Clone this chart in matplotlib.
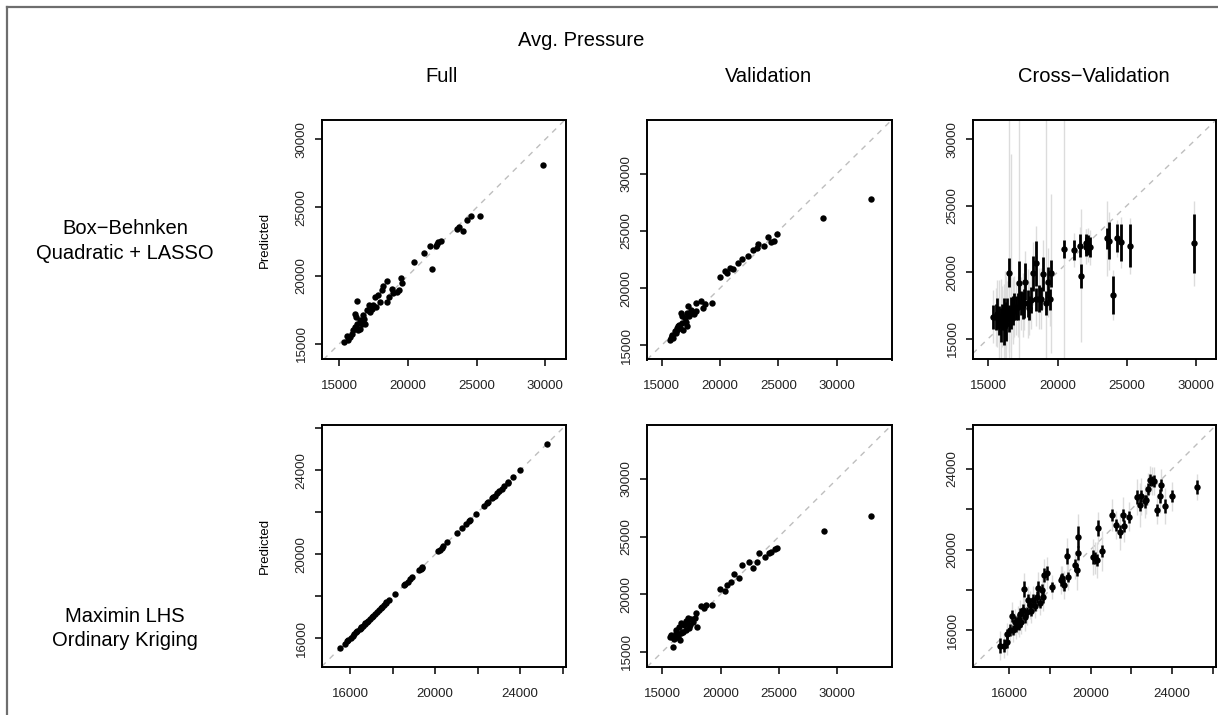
import matplotlib
matplotlib.use('Agg')
import matplotlib.pyplot as plt
from matplotlib.lines import Line2D

plt.rcParams['font.family'] = ['Liberation Sans', 'DejaVu Sans']

# ---------------- data ----------------
# Box-Behnken design: actual values (shared by Full and Cross-Validation)
bb_actual = [15340, 15530, 15660, 15780, 15900, 16020, 16140, 16140, 16210, 16260,
             16310, 16380, 16500, 16500, 16630, 16750, 16800, 16870, 16990, 17160,
             17230, 17350, 17480, 17600, 17670, 17840, 17960, 18080, 18200, 18450,
             18450, 18640, 18810, 18930, 19170, 19340, 19470, 19540, 20460, 21190,
             21600, 21720, 22040, 22090, 22210, 22380, 23540, 23740, 24030, 24270,
             24590, 25250, 29850]
bb_full_pred = [15120, 15540, 15250, 15490, 15690, 15980, 16230, 17210, 16960, 16470,
                18110, 15980, 16720, 16100, 16470, 17080, 16840, 16470, 17450, 17870,
                17330, 17570, 17820, 18430, 17700, 18550, 18060, 18920, 19220, 19580,
                18060, 18430, 19040, 18730, 18800, 18920, 19850, 19490, 21000, 21670,
                22160, 20470, 22180, 22350, 22430, 22520, 23450, 23530, 23280, 24070,
                24360, 24360, 28100]
bb_cv_pred = [16630, 16630, 16880, 16380, 16000, 16630, 15880, 17140, 16400, 16760,
              16130, 17140, 19950, 16510, 16900, 17190, 17100, 17390, 17300, 17390,
              19150, 17640, 17500, 17640, 19270, 17640, 17300, 17890, 19900, 17940,
              20650, 18010, 18010, 19850, 17700, 19220, 17960, 19900, 21730, 21660,
              21990, 19720, 21910, 22160, 22050, 21860, 22540, 22360, 18270, 22540,
              22240, 21990, 22160]
bb_cv_se = [900, 1000, 1200, 1100, 1300, 1000, 1400, 900, 1200, 1000,
            1300, 900, 1100, 1000, 1200, 900, 1100, 1000, 900, 1000,
            1700, 900, 1000, 1100, 1400, 1000, 900, 1000, 1300, 900,
            1700, 1000, 900, 1300, 900, 1200, 800, 1000, 650, 750,
            850, 900, 700, 700, 750, 750, 800, 1400, 1450, 1050,
            1400, 1600, 2200]
bb_cv_pi = [2000, 2200, 2500, 3000, 3500, 2300, 2800, 2000, 3700, 2500,
            3600, 2200, 20000, 2500, 12000, 2200, 2500, 2300, 2000, 2300,
            20000, 2000, 2400, 2000, 2300, 2600, 2000, 2200, 2400, 2000,
            2800, 2300, 2300, 2600, 20000, 2600, 2000, 6000, 12000, 1300,
            1400, 5000, 1300, 1100, 1300, 1300, 2800, 2200, 1900, 1400,
            1900, 2100, 3200]

# Validation set: actual values (shared by both designs)
val_actual = [15690, 15770, 15860, 15920, 16000, 16140, 16200, 16290, 16350, 16430,
              16490, 16570, 16630, 16710, 16770, 16860, 17000, 17060, 17140, 17200,
              17290, 17350, 17490, 17630, 17780, 17920, 17980, 18350, 18570, 18720,
              19290, 19980, 20410, 20570, 20860, 21140, 21570, 21840, 22400, 22800,
              23140, 23290, 23790, 24140, 24360, 24660, 24860, 28850, 32950]
val_bb_pred = [15490, 15600, 15780, 15930, 15640, 16220, 16070, 16350, 16500, 16650,
               16800, 16510, 17820, 16940, 17520, 16360, 17380, 17000, 16650, 17820,
               18400, 17600, 18100, 17800, 17700, 18740, 17960, 18890, 18250, 18600,
               18740, 20950, 21530, 21300, 21730, 21650, 22170, 22520, 22810, 23330,
               23530, 23820, 23680, 24430, 24050, 24110, 24720, 26090, 27830]
val_lhs_pred = [16240, 16450, 16300, 15380, 16100, 16590, 16880, 16240, 16240, 17170,
                16010, 16590, 17460, 16740, 16740, 17300, 17690, 16880, 17500, 17890,
                17100, 17320, 17810, 17610, 17890, 18330, 17170, 18970, 18800, 19050,
                19050, 20410, 20300, 20790, 21080, 21750, 21370, 22530, 22820, 22240,
                22820, 23600, 23190, 23600, 23690, 23890, 23980, 25480, 26810]

# Maximin LHS design: actual values (shared by Full and Cross-Validation)
lhs_actual = [15540, 15740, 15870, 15900, 16030, 16120, 16200, 16280, 16330, 16440,
              16500, 16530, 16600, 16690, 16720, 16790, 16850, 16940, 17020, 17080,
              17180, 17260, 17350, 17430, 17500, 17590, 17680, 17710, 17840, 18090,
              18520, 18600, 18700, 18830, 18910, 19240, 19320, 19370, 19400, 20140,
              20220, 20300, 20380, 20570, 21040, 21250, 21450, 21580, 21620, 21910,
              22300, 22440, 22490, 22680, 22730, 22800, 22900, 23010, 23130, 23260,
              23420, 23440, 23670, 24000, 25250]
lhs_full_pred = [15540, 15740, 15870, 15900, 16030, 16120, 16200, 16280, 16330, 16440,
                 16500, 16530, 16600, 16690, 16720, 16790, 16850, 16940, 17020, 17080,
                 17180, 17260, 17350, 17430, 17500, 17590, 17680, 17710, 17840, 18090,
                 18520, 18600, 18700, 18830, 18910, 19240, 19320, 19370, 19400, 20140,
                 20220, 20300, 20380, 20570, 21040, 21250, 21450, 21580, 21620, 21910,
                 22300, 22440, 22490, 22680, 22730, 22800, 22900, 23010, 23130, 23260,
                 23420, 23440, 23670, 24000, 25250]
lhs_cv_pred = [15250, 15250, 15420, 15830, 16000, 16700, 16000, 16420, 16150, 16500,
               16250, 16830, 16400, 17000, 18030, 16650, 16900, 17490, 17240, 16950,
               17490, 17200, 17660, 18080, 17350, 17990, 17660, 18740, 18860, 18160,
               18490, 18600, 18240, 19690, 18660, 19240, 18990, 19850, 20650, 19650,
               19570, 19490, 21060, 19920, 21730, 21230, 20900, 21730, 21180, 21640,
               22600, 22220, 22640, 22390, 22470, 23000, 23470, 23390, 23420, 21980,
               22640, 23190, 22170, 22640, 23100]
lhs_cv_se = [350, 300, 300, 250, 300, 300, 250, 300, 250, 300,
             250, 300, 250, 300, 400, 300, 250, 300, 300, 250,
             300, 250, 300, 350, 250, 300, 300, 350, 350, 250,
             300, 250, 300, 400, 250, 300, 300, 350, 500, 350,
             300, 300, 400, 300, 300, 300, 300, 300, 300, 300,
             350, 300, 300, 300, 250, 300, 300, 250, 300, 300,
             350, 300, 350, 300, 350]
lhs_cv_pi = [700, 600, 650, 550, 600, 700, 600, 650, 600, 700,
             600, 700, 600, 650, 800, 700, 650, 700, 700, 600,
             700, 600, 700, 800, 600, 700, 700, 800, 800, 600,
             700, 600, 700, 900, 650, 700, 1000, 800, 1100, 900,
             800, 900, 800, 1000, 800, 700, 900, 900, 800, 700,
             900, 1100, 900, 800, 700, 800, 700, 700, 700, 700,
             800, 800, 900, 700, 650]

ticks_a = [15000, 20000, 25000, 30000]
labels_a = ['15000', '20000', '25000', '30000']
ticks_b = [16000, 18000, 20000, 22000, 24000, 26000]
labels_b = ['16000', '', '20000', '', '24000', '']

row_titles = [['Box\u2212Behnken', 'Quadratic + LASSO'], ['Maximin LHS', 'Ordinary Kriging']]
col_titles = ['Full', 'Validation', 'Cross\u2212Validation']
main_title = 'Avg. Pressure'
ylab = 'Predicted'

# ---------------- figure ----------------
W, H = 1218, 715
fig = plt.figure(figsize=(W / 100, H / 100), dpi=100)

def px_axes(left, top, right, bottom):
    return fig.add_axes([left / W, 1 - bottom / H, (right - left) / W, (bottom - top) / H])

col_px = [(321.7, 566.0), (646.7, 891.7), (972.7, 1216.0)]
row_px = [(120.0, 359.5), (425.0, 666.7)]

def style(ax, xlim, ylim, ticks, labels):
    ax.set_xlim(xlim)
    ax.set_ylim(ylim)
    ax.set_xticks(ticks)
    ax.set_xticklabels(labels)
    ax.set_yticks(ticks)
    ax.set_yticklabels(labels, rotation=90, va='center')
    ax.tick_params(axis='both', direction='out', length=5, width=1.1,
                   labelsize=9.5, colors='black', labelcolor='#222222')
    ax.tick_params(axis='x', pad=10)
    ax.tick_params(axis='y', pad=5)
    for s in ax.spines.values():
        s.set_linewidth(1.4)
        s.set_color('black')
    ax.axline((20000, 20000), slope=1, color='#BEBEBE', lw=1.0,
              linestyle=(0, (4, 4)), zorder=1)

def dots(ax, x, y):
    ax.plot(x, y, 'o', color='black', markersize=4.6, markeredgewidth=0, zorder=4)

def cv_bars(ax, x, y, se, pi, bw):
    ax.vlines(x, [a - b for a, b in zip(y, pi)], [a + b for a, b in zip(y, pi)],
              color='#DCDCDC', lw=1.0, zorder=2)
    ax.vlines(x, [a - b for a, b in zip(y, se)], [a + b for a, b in zip(y, se)],
              color='black', lw=bw, zorder=3)

# Row 1
ax = px_axes(col_px[0][0], row_px[0][0], col_px[0][1], row_px[0][1])
style(ax, (13720, 31500), (13850, 31410), ticks_a, labels_a)
dots(ax, bb_actual, bb_full_pred)

ax = px_axes(col_px[1][0], row_px[0][0], col_px[1][1], row_px[0][1])
style(ax, (13720, 34700), (13760, 34700), ticks_a, labels_a)
dots(ax, val_actual, val_bb_pred)

ax = px_axes(col_px[2][0], row_px[0][0], col_px[2][1], row_px[0][1])
style(ax, (13870, 31450), (13420, 31450), ticks_a, labels_a)
cv_bars(ax, bb_actual, bb_cv_pred, bb_cv_se, bb_cv_pi, 2.0)
dots(ax, bb_actual, bb_cv_pred)

# Row 2
ax = px_axes(col_px[0][0], row_px[1][0], col_px[0][1], row_px[1][1])
style(ax, (14660, 26160), (14650, 26160), ticks_b, labels_b)
dots(ax, lhs_actual, lhs_full_pred)

ax = px_axes(col_px[1][0], row_px[1][0], col_px[1][1], row_px[1][1])
style(ax, (13650, 34690), (13700, 34690), ticks_a, labels_a)
dots(ax, val_actual, val_lhs_pred)

ax = px_axes(col_px[2][0], row_px[1][0], col_px[2][1], row_px[1][1])
style(ax, (14200, 26170), (14200, 26180), ticks_b, labels_b)
cv_bars(ax, lhs_actual, lhs_cv_pred, lhs_cv_se, lhs_cv_pi, 1.8)
dots(ax, lhs_actual, lhs_cv_pred)

# Texts
def ftext(x, y, s, **kw):
    fig.text(x / W, 1 - y / H, s, ha='center', va='center', color='black', **kw)

ftext(581, 40, main_title, fontsize=14.5)
for cx, t in zip([442, 768, 1094], col_titles):
    ftext(cx, 77, t, fontsize=14.5)
ftext(125, 229, row_titles[0][0], fontsize=14.5)
ftext(125, 253, row_titles[0][1], fontsize=14.5)
ftext(125, 617, row_titles[1][0], fontsize=14.5)
ftext(125, 641, row_titles[1][1], fontsize=14.5)
ftext(265, 240, ylab, fontsize=9.5, rotation=90)
ftext(265, 546, ylab, fontsize=9.5, rotation=90)

# outer frame (left and top edges)
fig.add_artist(Line2D([7 / W, 7 / W], [0, 1 - 7 / H], transform=fig.transFigure,
                      color='#6E6E6E', lw=1.6))
fig.add_artist(Line2D([7 / W, 1], [1 - 7 / H, 1 - 7 / H], transform=fig.transFigure,
                      color='#6E6E6E', lw=1.6))

fig.savefig('out.png', dpi=100, facecolor='white')
